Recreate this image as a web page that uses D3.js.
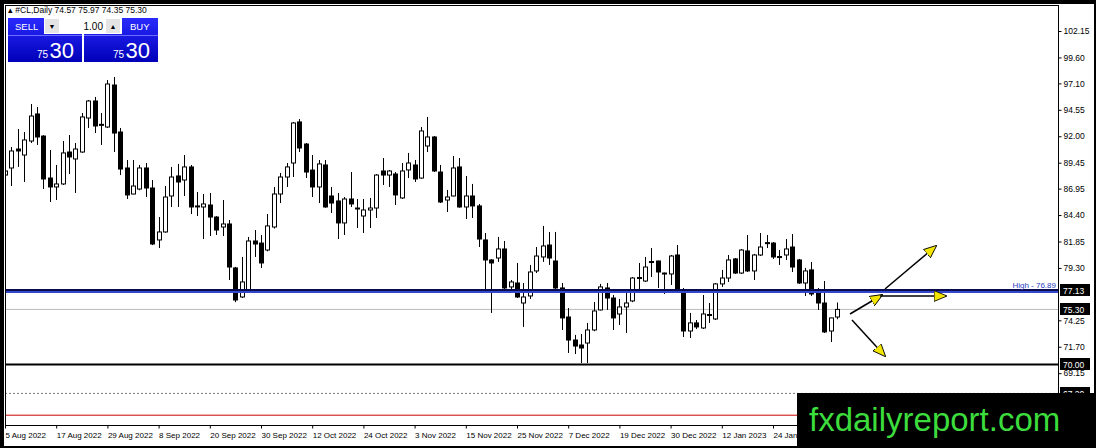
<!DOCTYPE html>
<html>
<head>
<meta charset="utf-8">
<script src="https://cdn.jsdelivr.net/npm/d3@7"></script>
<style>
  body { margin: 0; background: #000; }
  svg { display: block; }
</style>
</head>
<body>
<svg id="chart" width="1096" height="448"></svg>
<script>
// daily OHLC of #CL (5 Aug 2022 -> early Feb 2023)
var opens = [88.26,88.94,90.77,90.19,91.54,94.15,92.02,87.97,87.11,87.40,90.48,89.81,90.48,93.76,95.40,93.15,92.89,96.94,92.41,88.94,
  86.43,86.91,88.94,87.01,82.00,82.77,86.24,88.17,87.78,89.04,85.23,85.18,85.37,84.21,83.25,83.54,79.30,76.50,77.18,81.90,
  81.70,81.03,83.25,86.43,88.07,89.42,93.38,91.25,88.74,87.11,89.23,86.24,85.76,83.64,85.95,85.08,84.31,84.89,85.08,88.65,
  88.26,88.36,86.05,88.75,89.23,87.97,91.06,91.93,88.55,85.85,86.24,89.04,85.18,86.24,85.28,82.00,80.07,80.26,81.13,77.47,
  77.85,75.92,76.60,79.01,80.36,81.51,79.97,77.37,74.57,72.35,71.87,72.06,73.32,75.25,77.37,76.40,74.86,75.54,76.12,78.38,
  78.04,79.92,79.97,78.81,78.72,80.55,77.18,73.22,74.00,73.51,74.81,74.38,77.76,78.33,80.17,78.81,80.94,79.01,80.55,81.74,
  81.70,80.36,80.55,81.32,80.07,77.85,79.11,76.89,75.92,73.22,74.57];
var highs = [90.67,90.96,92.70,92.41,95.11,94.82,92.10,90.67,89.23,91.54,92.12,91.35,94.24,95.50,95.79,94.24,97.42,97.71,92.80,89.71,
  89.71,89.23,89.42,87.78,84.21,87.20,89.04,89.33,90.19,89.23,86.62,86.43,86.53,84.30,85.85,83.92,79.40,80.36,82.29,82.96,
  82.48,84.50,87.11,88.46,89.42,93.38,93.66,91.35,90.19,89.71,89.71,87.11,86.53,86.14,88.55,85.95,85.95,86.05,88.36,89.90,
  88.75,88.55,89.42,90.39,89.71,92.89,93.86,92.02,89.23,86.82,90.10,89.90,88.17,87.40,85.47,82.67,80.15,82.29,81.90,78.14,
  79.78,77.85,79.59,81.32,83.35,82.77,82.77,77.85,75.44,72.84,72.93,74.00,76.02,77.76,77.85,76.69,76.31,76.89,78.43,79.78,
  80.36,81.22,80.00,78.85,80.55,81.51,77.37,74.96,74.28,76.69,75.92,77.85,79.11,80.55,80.26,81.13,82.48,80.65,82.67,82.48,
  81.80,81.03,82.09,82.57,80.17,79.30,79.88,77.37,78.04,74.50,75.97];
var lows = [87.01,87.20,89.04,87.59,91.35,91.16,86.91,85.66,85.85,87.30,88.36,86.53,90.40,92.80,92.31,91.16,92.80,90.48,88.26,85.95,
  86.40,86.80,86.14,81.50,81.22,82.70,85.18,85.18,86.24,84.50,84.31,82.09,82.38,82.48,82.38,78.14,76.00,76.40,77.08,80.36,
  79.30,80.90,83.10,85.56,87.11,88.07,90.48,87.97,86.14,85.56,85.10,84.60,82.09,82.48,85.18,83.15,82.67,83.15,84.12,87.30,
  87.11,85.37,85.95,87.97,87.59,87.90,90.48,88.55,85.56,84.69,86.20,85.10,84.02,84.12,81.32,77.18,74.96,79.88,76.89,76.98,
  76.40,73.61,76.31,78.81,79.88,79.59,77.18,73.32,71.10,71.00,70.13,70.13,73.20,75.20,75.25,73.32,73.80,73.03,76.00,76.98,
  77.95,78.43,77.37,76.79,77.66,76.98,72.64,72.55,73.41,73.41,74.00,74.28,77.47,77.95,78.72,78.72,78.91,78.14,80.45,81.22,
  80.17,79.59,80.07,78.91,77.76,76.60,76.60,75.25,73.03,72.16,74.35];
var closes = [88.65,90.58,90.58,91.64,93.95,91.93,87.88,87.11,87.40,90.39,90.00,90.77,93.86,95.40,92.99,93.08,97.04,92.31,88.84,86.34,
  87.20,88.94,87.01,81.61,82.77,86.14,88.07,87.59,89.04,85.18,85.28,85.47,84.21,82.96,83.54,79.39,76.21,77.95,81.90,81.61,
  79.78,83.35,86.43,88.07,89.04,93.28,90.87,88.55,87.11,89.33,85.18,85.56,83.64,85.95,85.47,85.00,84.89,85.08,88.26,88.26,
  88.65,86.34,88.65,89.42,87.88,92.51,91.93,88.65,85.66,86.14,88.94,85.18,86.24,85.28,82.09,80.07,79.78,81.13,77.37,77.95,
  76.50,76.50,78.91,80.45,81.42,80.26,77.37,74.48,72.35,71.77,71.58,73.32,75.15,77.47,76.40,74.48,75.54,75.92,78.33,78.28,
  79.39,79.87,78.91,78.72,80.45,77.18,73.22,74.00,73.61,74.86,74.76,77.76,78.33,80.07,78.81,81.03,79.01,80.55,81.32,81.70,
  80.36,80.40,81.13,79.39,77.85,79.01,76.79,75.92,73.13,74.48,75.30];

var priceTicks = [102.15, 99.60, 97.10, 94.55, 92.00, 89.45, 86.95, 84.40, 81.85, 79.30, 74.25, 71.70, 69.15];
var dateLabels = ["5 Aug 2022", "17 Aug 2022", "29 Aug 2022", "8 Sep 2022", "20 Sep 2022", "30 Sep 2022", "12 Oct 2022",
  "24 Oct 2022", "3 Nov 2022", "15 Nov 2022", "25 Nov 2022", "7 Dec 2022", "19 Dec 2022", "30 Dec 2022", "12 Jan 2023", "24 Jan 2023"];
var labelEvery = 8;

var resistance = 77.13, highLevel = 76.89, lastPrice = 75.30, support = 70.00, lowDash = 67.20, redLevel = 65.10;

var svg = d3.select("#chart");
var font = "Tahoma, 'Liberation Sans', sans-serif";
var plotL = 5, plotR = 1058, plotT = 5, plotB = 425;

var x = d3.scaleLinear().domain([0, 1]).range([5, 11.4]);
var y = d3.scaleLinear().domain([69.15, 102.15]).range([373.2, 31]);

svg.append("rect").attr("x", 4).attr("y", 4).attr("width", 1090).attr("height", 442).attr("fill", "#fff");
var defs = svg.append("defs");

defs.append("clipPath").attr("id", "clip").append("rect")
  .attr("x", plotL).attr("y", plotT).attr("width", plotR - plotL).attr("height", plotB - plotT);
var g = svg.append("g").attr("clip-path", "url(#clip)");

// levels
g.append("line").attr("x1", plotL).attr("x2", plotR).attr("y1", y(lowDash)).attr("y2", y(lowDash))
  .attr("stroke", "#777").attr("stroke-dasharray", "2,2");
g.append("line").attr("x1", plotL).attr("x2", plotR).attr("y1", y(redLevel)).attr("y2", y(redLevel))
  .attr("stroke", "#c00");
g.append("line").attr("x1", plotL).attr("x2", plotR).attr("y1", y(lastPrice)).attr("y2", y(lastPrice))
  .attr("stroke", "#bbb");
g.append("line").attr("x1", plotL).attr("x2", plotR).attr("y1", y(support)).attr("y2", y(support))
  .attr("stroke", "#000").attr("stroke-width", 2);

// candles
var idx = d3.range(opens.length);
g.selectAll(".wick").data(idx).join("line")
  .attr("x1", i => Math.round(x(i)) + 0.5).attr("x2", i => Math.round(x(i)) + 0.5)
  .attr("y1", i => y(highs[i])).attr("y2", i => y(lows[i]))
  .attr("stroke", "#000");
g.selectAll(".body").data(idx).join("rect")
  .attr("x", i => Math.round(x(i)) - 1.5).attr("width", 4)
  .attr("y", i => y(Math.max(opens[i], closes[i])))
  .attr("height", i => Math.max(1, Math.abs(y(opens[i]) - y(closes[i]))))
  .attr("fill", i => closes[i] >= opens[i] ? "#fff" : "#000")
  .attr("stroke", "#000");

g.append("line").attr("x1", plotL).attr("x2", plotR).attr("y1", y(resistance) + 1.5).attr("y2", y(resistance) + 1.5)
  .attr("stroke", "#3348c8").attr("stroke-width", 2);
g.append("line").attr("x1", plotL).attr("x2", plotR).attr("y1", y(resistance) - 0.5).attr("y2", y(resistance) - 0.5)
  .attr("stroke", "#0a0a50").attr("stroke-width", 2);
g.append("text").attr("x", plotR - 2).attr("y", y(resistance) - 2).attr("text-anchor", "end")
  .attr("font-family", font).attr("font-size", 8).attr("fill", "#2a3cc0").text("High - " + highLevel.toFixed(2));

// arrows
defs.append("marker").attr("id", "head").attr("viewBox", "0 0 12 10").attr("refX", 11).attr("refY", 5)
  .attr("markerWidth", 13).attr("markerHeight", 11).attr("markerUnits", "userSpaceOnUse").attr("orient", "auto")
  .append("path").attr("d", "M0,0 L12,5 L0,10 Z").attr("fill", "#f2e600").attr("stroke", "#000").attr("stroke-width", 0.8);
var arrows = [[850, 314, 882, 295], [885, 289, 936, 246], [880, 296, 946, 296], [852, 320, 885, 356]];
g.selectAll(".arrow").data(arrows).join("line")
  .attr("x1", d => d[0]).attr("y1", d => d[1]).attr("x2", d => d[2]).attr("y2", d => d[3])
  .attr("stroke", "#000").attr("stroke-width", 1.5).attr("marker-end", "url(#head)");

// frame
svg.append("rect").attr("x", plotL + 0.5).attr("y", plotT + 0.5).attr("width", plotR - plotL).attr("height", plotB - plotT)
  .attr("fill", "none").attr("stroke", "#000");

// price axis
var yAxis = d3.axisRight(y).tickValues(priceTicks).tickSize(3).tickFormat(d3.format(".2f"));
var ya = svg.append("g").attr("transform", "translate(" + (plotR + 0.5) + ",0)").call(yAxis);
ya.select(".domain").remove();
ya.selectAll("text").attr("font-family", font).attr("font-size", 8.5).attr("fill", "#000").attr("x", 5);

var boxes = [resistance, lastPrice, support, lowDash];
boxes.forEach(function (v) {
  var bx = svg.append("g").attr("transform", "translate(" + (plotR + 2) + "," + Math.round(y(v)) + ")");
  bx.append("rect").attr("x", 0).attr("y", -6).attr("width", 30).attr("height", 12).attr("fill", "#000");
  bx.append("text").attr("x", 3).attr("y", 3.5).attr("font-family", font).attr("font-size", 8.5)
    .attr("fill", "#fff").text(v.toFixed(2));
});

// date axis
var dateTicks = dateLabels.map((d, i) => i * labelEvery);
var xAxis = d3.axisBottom(x).tickValues(dateTicks).tickSize(3).tickFormat((d, i) => dateLabels[i]);
var xa = svg.append("g").attr("transform", "translate(0," + (plotB + 0.5) + ")").call(xAxis);
xa.select(".domain").remove();
xa.selectAll("text").attr("font-family", font).attr("font-size", 8).attr("fill", "#000")
  .attr("text-anchor", "start").attr("dx", 0).attr("y", 7);

// header + trade panel
svg.append("text").attr("x", 8).attr("y", 13).attr("font-family", font).attr("font-size", 8.5).attr("fill", "#000")
  .text("\u25B4 #CL,Daily  74.57 75.97 74.35 75.30");
var grad = defs.append("linearGradient").attr("id", "blue").attr("x1", 0).attr("x2", 0).attr("y1", 0).attr("y2", 1);
grad.append("stop").attr("offset", "0%").attr("stop-color", "#2a2aff");
grad.append("stop").attr("offset", "100%").attr("stop-color", "#0000b8");
var panel = svg.append("g");
[[8, "SELL"], [84, "BUY"]].forEach(function (p) {
  panel.append("rect").attr("x", p[0]).attr("y", 18).attr("width", 74).attr("height", 44).attr("fill", "url(#blue)");
  panel.append("line").attr("x1", p[0]).attr("x2", p[0] + 74).attr("y1", 35.5).attr("y2", 35.5).attr("stroke", "#6b6bff");
  panel.append("text").attr("x", p[0] + 66).attr("y", 58).attr("text-anchor", "end").attr("font-family", font)
    .attr("font-size", 22).attr("fill", "#fff").text("30");
  panel.append("text").attr("x", p[0] + 40).attr("y", 58).attr("text-anchor", "end").attr("font-family", font)
    .attr("font-size", 10).attr("fill", "#fff").text("75");
});
panel.append("text").attr("x", 15).attr("y", 30).attr("font-family", font).attr("font-size", 9.5).attr("fill", "#fff").text("SELL");
panel.append("text").attr("x", 130).attr("y", 30).attr("font-family", font).attr("font-size", 9.5).attr("fill", "#fff").text("BUY");
panel.append("rect").attr("x", 44).attr("y", 18).attr("width", 78).attr("height", 16).attr("fill", "#fff");
panel.append("rect").attr("x", 45).attr("y", 19).attr("width", 14).attr("height", 14).attr("fill", "#e4e4e4");
panel.append("rect").attr("x", 106).attr("y", 19).attr("width", 14).attr("height", 14).attr("fill", "#e4e4e4");
panel.append("text").attr("x", 52).attr("y", 29).attr("text-anchor", "middle").attr("font-size", 7).attr("font-family", font).text("\u25BC");
panel.append("text").attr("x", 113).attr("y", 29).attr("text-anchor", "middle").attr("font-size", 7).attr("font-family", font).text("\u25B2");
panel.append("text").attr("x", 103).attr("y", 30).attr("text-anchor", "end").attr("font-size", 10).attr("font-family", font).text("1.00");

// watermark box
svg.append("rect").attr("x", 797).attr("y", 393).attr("width", 299).attr("height", 55).attr("fill", "#000");
svg.append("text").attr("x", 809).attr("y", 431).attr("font-family", "Liberation Sans, Arial, sans-serif")
  .attr("font-size", 33).attr("fill", "#3ddc3d").text("fxdailyreport.com");
</script>
</body>
</html>
